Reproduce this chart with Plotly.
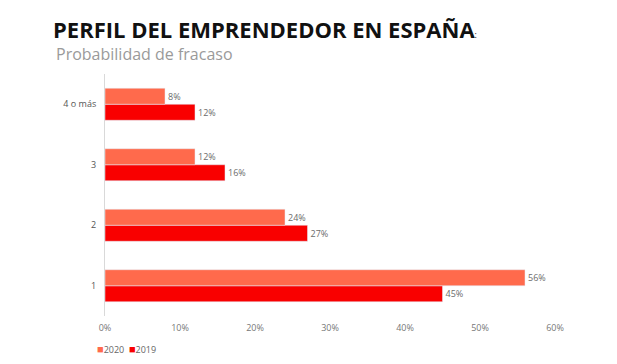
import plotly.graph_objects as go

categories = ["1", "2", "3", "4 o más"]
values_2020 = [56, 24, 12, 8]
values_2019 = [45, 27, 16, 12]
tick_vals = [0, 10, 20, 30, 40, 50, 60]
tick_text = ["0%", "10%", "20%", "30%", "40%", "50%", "60%"]
color_2020 = "#FF6A4C"
color_2019 = "#F90000"

FONT = "Open Sans"
fig = go.Figure()
fig.add_trace(go.Bar(
    y=categories, x=values_2019, name="2019", orientation="h",
    marker=dict(color=color_2019),
    text=[f"{v}%" for v in values_2019], textposition="outside",
    textfont=dict(size=9, color="#6b6b6b", family=FONT), cliponaxis=False,
    showlegend=False,
))
fig.add_trace(go.Bar(
    y=categories, x=values_2020, name="2020", orientation="h",
    marker=dict(color=color_2020),
    text=[f"{v}%" for v in values_2020], textposition="outside",
    textfont=dict(size=9, color="#6b6b6b", family=FONT), cliponaxis=False,
    showlegend=False,
))

legend_text = (f"<span style='color:{color_2020};font-size:11px'>■</span>2020  "
               f"<span style='color:{color_2019};font-size:11px'>■</span>2019")

fig.update_layout(
    width=617, height=364,
    margin=dict(l=105, r=62, t=74, b=48, autoexpand=False),
    paper_bgcolor="white", plot_bgcolor="white",
    barmode="group", bargap=0.47, bargroupgap=0,
    font=dict(family=FONT, size=9, color="#666666"),
    title=dict(
        text="<b>PERFIL DEL EMPRENDEDOR EN ESPAÑA</b><span style='font-size:9px'>:</span>",
        xref="container", x=53/617, xanchor="left",
        yref="container", y=1-30/364, yanchor="middle",
        font=dict(family=FONT, size=22, color="#111111"),
    ),
    annotations=[
        dict(
            text="Probabilidad de fracaso", xref="paper", yref="paper",
            x=(54-105)/450, y=(316-54)/242, xanchor="left", yanchor="middle",
            showarrow=False, font=dict(family=FONT, size=16, color="#9a9a9a"),
        ),
        dict(
            text=legend_text, xref="paper", yref="paper",
            x=(95-105)/450, y=(316-349)/242, xanchor="left", yanchor="middle",
            showarrow=False, font=dict(family=FONT, size=9, color="#666666"),
        ),
    ],
    xaxis=dict(
        range=[0, 60], tickvals=tick_vals, ticktext=tick_text,
        showgrid=False, zeroline=False, showline=False, automargin=False,
        tickfont=dict(size=9, color="#777777"), ticks="", ticklen=0,
        ticklabelstandoff=5,
    ),
    yaxis=dict(
        categoryorder="array", categoryarray=categories, automargin=False,
        showgrid=False, zeroline=False, showline=True, linecolor="#d9d9d9", linewidth=1,
        tickfont=dict(size=9, color="#555555"), ticks="", ticklabelstandoff=6,
    ),
    showlegend=False,
)
fig.write_html("out.html", config={"displayModeBar": False},
               post_script="document.body.style.margin='0';")
